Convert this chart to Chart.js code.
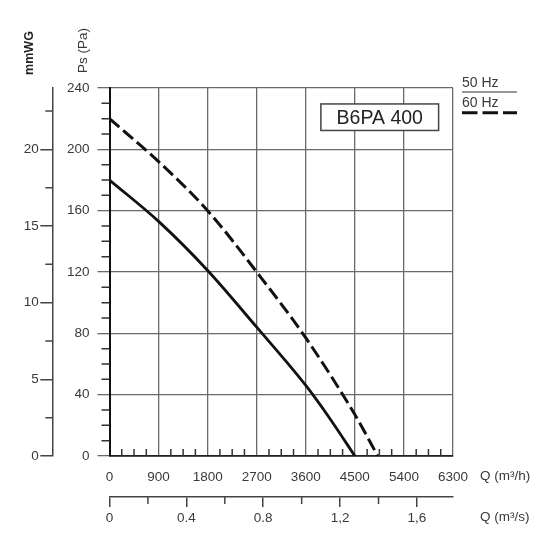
<!DOCTYPE html>
<html>
<head>
<meta charset="utf-8">
<script src="https://cdn.jsdelivr.net/npm/chart.js@4.4.0/dist/chart.umd.min.js"></script>
<style>
  html, body { margin: 0; padding: 0; background: #fff; }
  #wrap { width: 550px; height: 550px; }
</style>
</head>
<body>
<div id="wrap"><canvas id="fanChart" width="550" height="550"></canvas></div>
<script>
// Fan curve points (Q in m³/h, Ps in Pa)
const q50 = [0, 900, 1800, 2700, 3600, 4050, 4500];
const ps50 = [180, 153, 121, 84, 46, 24, 0];
const q60 = [0, 900, 1800, 2700, 3600, 4500, 4920];
const ps60 = [220, 192, 160, 120, 77, 27, 0];

const seriesNames = ['50 Hz', '60 Hz'];
const modelName = 'B6PA 400';

// Axis ranges and steps
const qhMax = 6300, qhStep = 900, qhMinor = 225;
const psMax = 240, psStep = 40, psMinor = 10;
const mmMax = 24, mmStep = 5, mmMinor = 2.5;
// m³/s scale as printed on the sheet (a bit off against the m³/h one)
const qsMax = 1.7875, qsStep = 0.4;
const qsTicks = [0, 0.4, 0.8, 1.2, 1.6];
const qsLabels = ['0', '0.4', '0.8', '1,2', '1,6'];
const qsMinorTicks = [0.2, 0.6, 1.0, 1.4];

const FONT = '"Liberation Sans", Arial, sans-serif';
const textColor = '#3a3a3a';
const gridColor = '#6a6a6a';
const axisColor = '#444';

const toPoints = (xs, ys) => xs.map((q, i) => ({ x: q, y: ys[i] }));

// minor ticks, axis names, model box and legend
const extrasPlugin = {
    id: 'extras',
    afterDraw(chart) {
        const { ctx, chartArea: a, scales } = chart;
        const { x, y, x2, y2 } = scales;
        ctx.save();

        ctx.strokeStyle = '#333';
        ctx.lineWidth = 1.5;
        ctx.beginPath();
        // Pa minor ticks, pointing left
        for (let v = psMinor; v < psMax; v += psMinor) {
            if (v % psStep === 0) continue;
            const py = y.getPixelForValue(v);
            ctx.moveTo(a.left - 8, py);
            ctx.lineTo(a.left, py);
        }
        // m³/h minor ticks, pointing up into the plot
        for (let v = qhMinor; v < qhMax; v += qhMinor) {
            if (v % qhStep === 0) continue;
            const px = x.getPixelForValue(v);
            ctx.moveTo(px, a.bottom);
            ctx.lineTo(px, a.bottom - 7);
        }
        ctx.stroke();

        ctx.strokeStyle = axisColor;
        ctx.beginPath();
        // mmWG minor ticks
        for (let v = mmMinor; v < mmMax; v += mmStep) {
            const py = y2.getPixelForValue(v);
            ctx.moveTo(y2.right - 7, py);
            ctx.lineTo(y2.right, py);
        }
        // m³/s minor ticks
        qsMinorTicks.forEach(v => {
            const px = x2.getPixelForValue(v);
            ctx.moveTo(px, x2.top);
            ctx.lineTo(px, x2.top + 7);
        });
        ctx.stroke();

        // axis names
        ctx.fillStyle = '#222';
        ctx.textAlign = 'center';
        ctx.textBaseline = 'middle';
        ctx.save();
        ctx.translate(30, 53);
        ctx.rotate(-Math.PI / 2);
        ctx.font = 'bold 12.5px ' + FONT;
        ctx.fillText('mmWG', 0, 0);
        ctx.restore();

        ctx.fillStyle = textColor;
        ctx.save();
        ctx.translate(83, 50.5);
        ctx.rotate(-Math.PI / 2);
        ctx.font = '13.5px ' + FONT;
        ctx.fillText('Ps (Pa)', 0, 0);
        ctx.restore();

        ctx.textAlign = 'left';
        ctx.font = '13.5px ' + FONT;
        ctx.fillText('Q (m³/h)', a.right + 27, 476);
        ctx.fillText('Q (m³/s)', a.right + 27, 517);

        // model box
        const bx0 = x.getPixelForValue(3877), bx1 = x.getPixelForValue(6036);
        const by0 = y.getPixelForValue(229.6), by1 = y.getPixelForValue(212.3);
        ctx.fillStyle = '#fff';
        ctx.fillRect(bx0, by0, bx1 - bx0, by1 - by0);
        ctx.strokeStyle = '#444';
        ctx.lineWidth = 1.5;
        ctx.strokeRect(bx0, by0, bx1 - bx0, by1 - by0);
        ctx.fillStyle = '#222';
        ctx.textAlign = 'center';
        ctx.font = '19.5px ' + FONT;
        ctx.fillText(modelName, (bx0 + bx1) / 2, (by0 + by1) / 2 + 1);

        // legend
        const lx = a.right + 9;
        ctx.textAlign = 'left';
        ctx.fillStyle = textColor;
        ctx.font = '14px ' + FONT;
        ctx.fillText(seriesNames[0], lx, 83);
        ctx.fillText(seriesNames[1], lx, 103.5);
        ctx.strokeStyle = '#777';
        ctx.lineWidth = 1.5;
        ctx.beginPath();
        ctx.moveTo(lx, 92);
        ctx.lineTo(lx + 55, 92);
        ctx.stroke();
        ctx.strokeStyle = '#111';
        ctx.lineWidth = 3;
        ctx.setLineDash([15.5, 5]);
        ctx.beginPath();
        ctx.moveTo(lx, 112.7);
        ctx.lineTo(lx + 55, 112.7);
        ctx.stroke();

        ctx.restore();
    }
};

const tickFont = { family: FONT, size: 13.5 };

new Chart(document.getElementById('fanChart'), {
    type: 'line',
    data: {
        datasets: [
            {
                label: seriesNames[0],
                data: toPoints(q50, ps50),
                borderColor: '#111',
                borderWidth: 2.8,
                pointRadius: 0,
                cubicInterpolationMode: 'monotone',
                fill: false
            },
            {
                label: seriesNames[1],
                data: toPoints(q60, ps60),
                borderColor: '#111',
                borderWidth: 3,
                borderDash: [13, 5],
                pointRadius: 0,
                cubicInterpolationMode: 'monotone',
                fill: false
            }
        ]
    },
    options: {
        responsive: false,
        animation: false,
        devicePixelRatio: 1,
        layout: { padding: { top: 88, left: 10, right: 97, bottom: 23 } },
        plugins: {
            legend: { display: false },
            tooltip: { enabled: false }
        },
        scales: {
            x: {
                type: 'linear',
                position: 'bottom',
                weight: 0,
                min: 0,
                max: qhMax,
                ticks: {
                    stepSize: qhStep,
                    color: textColor,
                    font: tickFont,
                    padding: 12.8,
                    maxRotation: 0,
                    autoSkip: false,
                    callback: v => String(v)
                },
                grid: { color: gridColor, lineWidth: 1.3, drawTicks: false },
                border: { color: '#222', width: 1.8 },
                afterFit: s => { s.height = 41; }
            },
            y: {
                type: 'linear',
                position: 'left',
                weight: 0,
                min: 0,
                max: psMax,
                ticks: {
                    stepSize: psStep,
                    color: textColor,
                    font: tickFont,
                    padding: 8,
                    callback: v => String(v)
                },
                grid: { color: gridColor, lineWidth: 1.3, drawTicks: true, tickLength: 12 },
                border: { color: '#111', width: 2 },
                afterFit: s => { s.width = 57.2; }
            },
            y2: {
                type: 'linear',
                position: 'left',
                weight: 1,
                min: 0,
                max: mmMax,
                ticks: {
                    stepSize: mmStep,
                    includeBounds: false,
                    color: textColor,
                    font: tickFont,
                    padding: 1.5,
                    callback: v => String(v)
                },
                grid: { drawOnChartArea: false, drawTicks: true, tickLength: 12, color: axisColor, lineWidth: 1.5 },
                border: { color: axisColor, width: 1.5 },
                afterFit: s => { s.width = 42.3; }
            },
            x2: {
                type: 'linear',
                position: 'bottom',
                weight: 1,
                min: 0,
                max: qsMax,
                ticks: {
                    stepSize: qsStep,
                    includeBounds: false,
                    color: textColor,
                    font: tickFont,
                    padding: 3.5,
                    maxRotation: 0,
                    autoSkip: false,
                    callback: v => {
                        const i = qsTicks.findIndex(t => Math.abs(t - v) < 1e-6);
                        return i >= 0 ? qsLabels[i] : '';
                    }
                },
                grid: { drawOnChartArea: false, drawTicks: true, tickLength: 10, color: axisColor, lineWidth: 1.5 },
                border: { color: axisColor, width: 1.5 },
                afterFit: s => { s.height = 30; }
            }
        }
    },
    plugins: [extrasPlugin]
});
</script>
</body>
</html>
